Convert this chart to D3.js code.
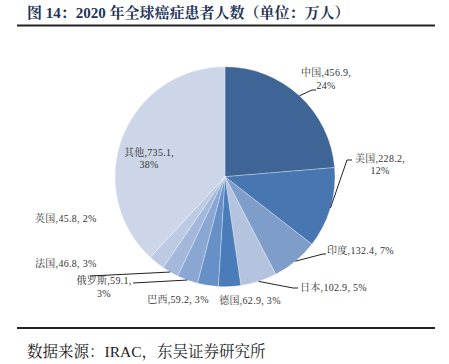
<!DOCTYPE html>
<html><head><meta charset="utf-8">
<script src="https://cdn.jsdelivr.net/npm/d3@7"></script>
<style>
body{margin:0;background:#fff;}
svg{display:block;}
</style></head>
<body>
<svg id="chart" width="449" height="364"></svg>
<script>
const categories = ["中国","美国","印度","日本","德国","巴西","俄罗斯","法国","英国","其他"];
const values = [456.9, 228.2, 132.4, 102.9, 62.9, 59.2, 59.1, 46.8, 45.8, 735.1];
const percents = ["24%","12%","7%","5%","3%","3%","3%","3%","2%","38%"];
const colors = ["#3e6596","#4776b0","#7f9dc9","#b4c3de","#4a7cba","#6890c8","#8aa6d2","#a3b8da","#bccbe3","#ccd6e8"];
const titleText = "图 14：2020 年全球癌症患者人数（单位：万人）";
const sourceText = "数据来源：IRAC，东吴证券研究所";

const svg = d3.select("#chart");
const serif = "'Liberation Serif','Times New Roman','Noto Serif CJK SC','Noto Sans CJK SC',serif";

// title
svg.append("text").attr("x", 27).attr("y", 18)
  .attr("font-family", serif).attr("font-weight", "bold").attr("font-size", 15)
  .attr("fill", "#1f3458").text(titleText);
svg.append("line").attr("x1", 17).attr("x2", 435).attr("y1", 25.5).attr("y2", 25.5)
  .attr("stroke", "#222").attr("stroke-width", 2);
svg.append("line").attr("x1", 17).attr("x2", 435).attr("y1", 328).attr("y2", 328)
  .attr("stroke", "#222").attr("stroke-width", 2);
svg.append("text").attr("x", 27).attr("y", 357)
  .attr("font-family", serif).attr("font-size", 15.5)
  .attr("fill", "#222").text(sourceText);

const cx = 225, cy = 176.7, R = 110;
const pie = d3.pie().sort(null).value(d => d)(values);
const arc = d3.arc().innerRadius(0).outerRadius(R);
const g = svg.append("g").attr("transform", `translate(${cx},${cy})`);
g.selectAll("path").data(pie).join("path")
  .attr("d", arc).attr("fill", (d, i) => colors[i])
  .attr("stroke", "#fff").attr("stroke-width", 0.3);

// label layout (annotation positions)
const layout = [
  {lines:[categories[0]+","+values[0]+",", percents[0]], x:326, y:[76,89], anchor:"middle", leader:[[312,90],[316,90]]},
  {lines:[categories[1]+","+values[1]+",", percents[1]], x:380, y:[162,174], anchor:"middle", leader:[[347,160],[352,160]]},
  {lines:[categories[2]+","+values[2]+", "+percents[2]], x:327, y:[254], anchor:"start", leader:[[323,254],[326,254]]},
  {lines:[categories[3]+","+values[3]+", "+percents[3]], x:300, y:[291], anchor:"start", leader:[[293,288],[298,288]]},
  {lines:[categories[4]+","+values[4]+", "+percents[4]], x:250, y:[304], anchor:"middle"},
  {lines:[categories[5]+","+values[5]+", "+percents[5]], x:178, y:[303], anchor:"middle"},
  {lines:[categories[6]+","+values[6]+",", percents[6]], x:104, y:[284,297], anchor:"middle", leader:[[133,283]]},
  {lines:[categories[7]+","+values[7]+", "+percents[7]], x:35, y:[267], anchor:"start", leader:[[90,276]]},
  {lines:[categories[8]+","+values[8]+", "+percents[8]], x:35, y:[222], anchor:"start"},
  {lines:[categories[9]+","+values[9]+",", percents[9]], x:149, y:[156,168], anchor:"middle"}
];

pie.forEach((d, i) => {
  const L = layout[i];
  const mid = (d.startAngle + d.endAngle) / 2;
  if (L.leader) {
    const start = [cx + R * Math.sin(mid), cy - R * Math.cos(mid)];
    const pts = [start].concat(L.leader);
    svg.append("path").attr("d", d3.line()(pts))
      .attr("fill", "none").attr("stroke", "#222").attr("stroke-width", 1);
  }
  L.lines.forEach((t, j) => {
    svg.append("text").attr("x", L.x).attr("y", L.y[j])
      .attr("text-anchor", L.anchor)
      .attr("font-family", serif).attr("font-size", 10)
      .attr("letter-spacing", 0.3)
      .attr("fill", "#333").text(t);
  });
});
</script>
</body></html>
